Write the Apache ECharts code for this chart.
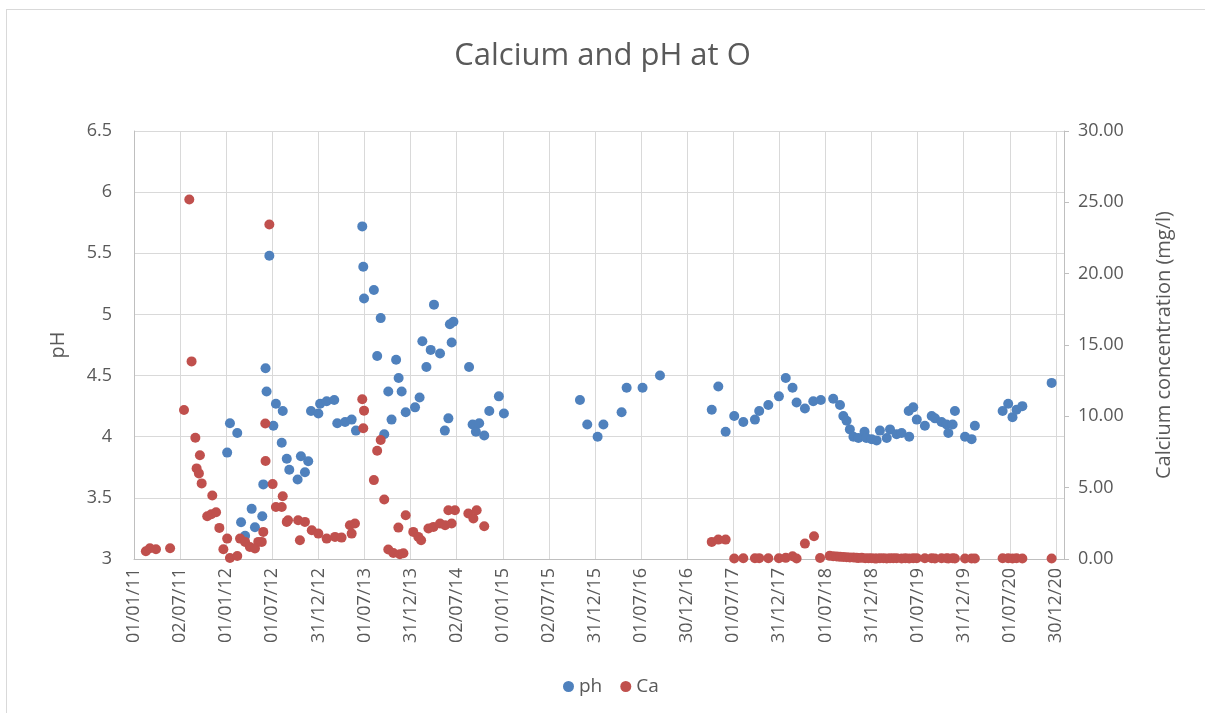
<!DOCTYPE html>
<html>
<head>
<meta charset="utf-8">
<title>Calcium and pH at O</title>
<script src="https://cdn.jsdelivr.net/npm/echarts@6/dist/echarts.min.js"></script>
<style>
    html, body { margin: 0; padding: 0; background: #fff; }
    #frame { position: absolute; left: 6px; top: 9px; width: 1220px; height: 720px; border: 1px solid #d9d9d9; }
    #chart { position: absolute; left: 0; top: 0; width: 1205px; height: 713px; }
</style>
</head>
<body>
<div id="frame"></div>
<div id="chart"></div>
<script>
    // sample dates are kept as days after 01/01/11
    var phDays = [369, 380, 409, 424, 440, 466, 479, 508, 512, 521, 525, 536, 552, 562, 585, 589, 605, 615,
        648, 661, 677, 690, 701, 730, 737, 763, 793, 805, 836, 862, 879, 904, 908, 911, 950, 963, 977, 991,
        1007, 1020, 1038, 1048, 1060, 1076, 1113, 1131, 1142, 1158, 1175, 1188, 1212, 1231, 1245, 1251, 1258,
        1265, 1327, 1341, 1354, 1367, 1387, 1407, 1445, 1465, 1766, 1795, 1836, 1859, 1931, 1951, 2014, 2083,
        2288, 2314, 2343, 2377, 2413, 2459, 2476, 2512, 2554, 2581, 2608, 2624, 2657, 2690, 2720, 2769, 2796,
        2809, 2822, 2835, 2849, 2869, 2893, 2900, 2921, 2941, 2954, 2981, 2994, 3020, 3040, 3068, 3070, 3086,
        3100, 3132, 3159, 3172, 3198, 3218, 3225, 3242, 3251, 3291, 3317, 3330, 3440, 3462, 3479, 3495, 3518, 3634];
    var phValues = [3.87, 4.11, 4.03, 3.30, 3.19, 3.41, 3.26, 3.35, 3.61, 4.56, 4.37, 5.48, 4.09, 4.27, 3.95, 4.21, 3.82, 3.73,
        3.65, 3.84, 3.71, 3.80, 4.21, 4.19, 4.27, 4.29, 4.30, 4.11, 4.12, 4.14, 4.05, 5.72, 5.39, 5.13, 5.20, 4.66, 4.97, 4.02,
        4.37, 4.14, 4.63, 4.48, 4.37, 4.20, 4.24, 4.32, 4.78, 4.57, 4.71, 5.08, 4.68, 4.05, 4.15, 4.92, 4.77,
        4.94, 4.57, 4.10, 4.04, 4.11, 4.01, 4.21, 4.33, 4.19, 4.30, 4.10, 4.00, 4.10, 4.20, 4.40, 4.40, 4.50,
        4.22, 4.41, 4.04, 4.17, 4.12, 4.14, 4.21, 4.26, 4.33, 4.48, 4.40, 4.28, 4.23, 4.29, 4.30, 4.31, 4.26,
        4.17, 4.13, 4.06, 4.00, 3.99, 4.04, 3.99, 3.98, 3.97, 4.05, 3.99, 4.06, 4.02, 4.03, 4.21, 4.00, 4.24,
        4.14, 4.09, 4.17, 4.15, 4.12, 4.10, 4.03, 4.10, 4.21, 4.00, 3.98, 4.09, 4.21, 4.27, 4.16, 4.22, 4.25, 4.44];

    var caDays = [47, 63, 87, 143, 198, 219, 228, 243, 248, 257, 261, 268, 290, 306, 310, 325, 338, 354, 369, 380,
        409, 420, 440, 459, 479, 492, 506, 512, 520, 521, 536, 549, 562, 585, 589, 605, 610, 650, 657, 677, 704,
        730, 763, 796, 822, 855, 862, 875, 904, 908, 911, 950, 963, 977, 991, 1007, 1027, 1047, 1053, 1067, 1076,
        1106, 1126, 1137, 1166, 1186, 1212, 1232, 1245, 1258, 1271, 1324, 1344, 1357, 1387,
        2288, 2314, 2343, 2377, 2413, 2459, 2476, 2512, 2554, 2581, 2608, 2624, 2657, 2693, 2717,
        2755, 2769, 2783, 2796, 2809, 2822, 2835, 2849, 2862, 2869, 2882, 2896, 2909, 2921, 2934, 2941, 2954,
        2968, 2981, 2994, 3007, 3020, 3040, 3055, 3070, 3086, 3100, 3132, 3159, 3172, 3198, 3218, 3225, 3242,
        3251, 3291, 3317, 3330, 3440, 3462, 3479, 3495, 3518, 3634];
    var caValues = [0.54, 0.75, 0.68, 0.75, 10.45, 25.2, 13.85, 8.5, 6.35, 6.0, 7.27, 5.3, 3.0, 3.14, 4.45, 3.28, 2.18, 0.68, 1.43, 0.07,
        0.21, 1.43, 1.2, 0.84, 0.73, 1.2, 1.2, 1.9, 9.5, 6.87, 23.45, 5.25, 3.65, 3.65, 4.4, 2.6, 2.72, 2.72, 1.31, 2.6, 2.02,
        1.78, 1.43, 1.55, 1.5, 2.37, 1.78, 2.49, 11.2, 9.16, 10.4, 5.53, 7.59, 8.34, 4.17, 0.66, 0.42, 2.2, 0.33, 0.4, 3.07,
        1.9, 1.55, 1.31, 2.14, 2.25, 2.49, 2.37, 3.42, 2.49, 3.42, 3.19, 2.84, 3.42, 2.3,
        1.2, 1.36, 1.36, 0.03, 0.05, 0.05, 0.06, 0.05, 0.05, 0.08, 0.19, 0.04, 1.08, 1.6, 0.07,
        0.22, 0.2, 0.18, 0.15, 0.14, 0.12, 0.1, 0.1, 0.08, 0.07, 0.08, 0.06, 0.05, 0.05, 0.04, 0.04, 0.05,
        0.05, 0.04, 0.05, 0.05, 0.06, 0.04, 0.05, 0.03, 0.05, 0.06, 0.05, 0.06, 0.04, 0.05, 0.05, 0.03, 0.05,
        0.04, 0.04, 0.03, 0.04, 0.05, 0.06, 0.04, 0.05, 0.04, 0.03];

    // x tick labels as printed under the axis (one every ~half year)
    var xTickLabels = ['01/01/11', '02/07/11', '01/01/12', '01/07/12', '31/12/12', '01/07/13', '31/12/13',
        '02/07/14', '01/01/15', '02/07/15', '31/12/15', '01/07/16', '30/12/16', '01/07/17', '31/12/17',
        '01/07/18', '31/12/18', '01/07/19', '31/12/19', '01/07/20', '30/12/20'];

    // axis ranges
    var xMin = 0;
    var xMax = 3683;
    var xStep = 182.55;
    var phMin = 3, phMax = 6.5, phStep = 0.5;
    var caMin = 0, caMax = 30, caStep = 5;

    function pairs(xs, ys) {
        return xs.map(function (x, i) {
            return [x, ys[i]];
        });
    }

    var textColor = '#595959';
    var font = '"Open Sans", "Noto Sans", sans-serif';

    var myChart = echarts.init(document.getElementById('chart'));
    var option = {
        animation: false,
        title: {
            text: 'Calcium and pH at O',
            left: 'center',
            top: 36,
            textStyle: { color: textColor, fontSize: 31, fontWeight: 'normal', fontFamily: font }
        },
        legend: {
            left: 558,
            top: 672,
            icon: 'circle',
            itemWidth: 11,
            itemHeight: 11,
            itemGap: 18,
            textStyle: { color: textColor, fontSize: 19, fontFamily: font },
            data: ['ph', 'Ca']
        },
        grid: {
            left: 134,
            right: 141,
            top: 131,
            bottom: 154
        },
        xAxis: {
            type: 'value',
            min: xMin,
            max: xMax,
            interval: xStep,
            axisLine: { show: true, lineStyle: { color: '#BFBFBF' } },
            axisTick: { show: false },
            splitLine: { show: true, lineStyle: { color: '#D9D9D9' } },
            axisLabel: {
                show: false
            }
        },
        yAxis: [
            {
                type: 'value',
                name: 'pH',
                nameLocation: 'middle',
                nameRotate: 90,
                nameGap: 66,
                nameTextStyle: { color: textColor, fontSize: 20, fontFamily: font },
                min: phMin,
                max: phMax,
                interval: phStep,
                axisLine: { show: true, lineStyle: { color: '#BFBFBF' } },
                axisTick: { show: false },
                splitLine: { show: true, lineStyle: { color: '#D9D9D9' } },
                axisLabel: { color: textColor, fontSize: 18, fontFamily: font, margin: 22 }
            },
            {
                type: 'value',
                position: 'right',
                name: 'Calcium concentration (mg/l)',
                nameLocation: 'middle',
                nameRotate: 90,
                nameGap: 90,
                nameTextStyle: { color: textColor, fontSize: 20, fontFamily: font },
                min: caMin,
                max: caMax,
                interval: caStep,
                axisLine: { show: true, lineStyle: { color: '#BFBFBF' } },
                axisTick: { show: true, length: 5, lineStyle: { color: '#BFBFBF' } },
                splitLine: { show: false },
                axisLabel: {
                    color: textColor,
                    fontSize: 18,
                    fontFamily: font,
                    margin: 14,
                    formatter: function (v) {
                        return v.toFixed(2);
                    }
                }
            }
        ],
        series: [
            {
                name: 'ph',
                type: 'scatter',
                yAxisIndex: 0,
                symbolSize: 10,
                itemStyle: { color: '#4F81BD', opacity: 1 },
                data: pairs(phDays, phValues)
            },
            {
                name: 'Ca',
                type: 'scatter',
                yAxisIndex: 1,
                symbolSize: 10,
                itemStyle: { color: '#C0504D', opacity: 1 },
                data: pairs(caDays, caValues)
            }
        ]
    };
    myChart.setOption(option);

    // x labels: one rotated text per half-year tick, placed through the x axis scale
    var labelTexts = xTickLabels.map(function (txt, i) {
        var px = myChart.convertToPixel({ xAxisIndex: 0 }, xMin + i * xStep);
        var py = myChart.convertToPixel({ yAxisIndex: 0 }, phMin);
        return {
            type: 'text',
            x: px,
            y: py + 9,
            rotation: Math.PI / 2,
            style: {
                text: txt,
                fill: textColor,
                fontSize: 18,
                fontFamily: font,
                align: 'right',
                verticalAlign: 'middle'
            }
        };
    });
    myChart.setOption({ graphic: labelTexts });
</script>
</body>
</html>
